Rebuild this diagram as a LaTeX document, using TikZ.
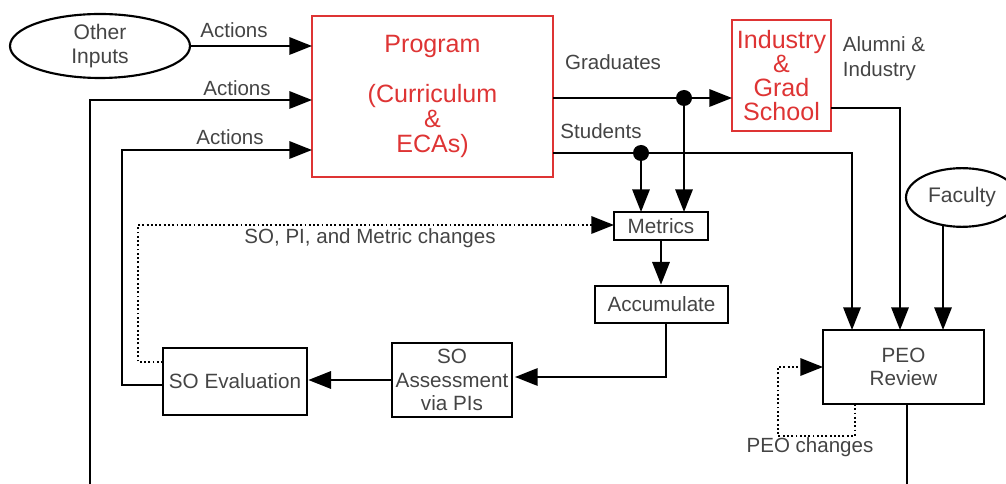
\documentclass[tikz,border=0pt]{standalone}
\usepackage{fontspec}
\setmainfont{Liberation Sans}
\usetikzlibrary{arrows.meta,shapes.geometric}
\definecolor{prog}{RGB}{222,52,52}
\definecolor{txt}{RGB}{68,68,68}
\begin{document}
\begin{tikzpicture}[x=0.75pt,y=-0.75pt,
  box/.style={draw=black,line width=2pt,inner sep=0pt,text=txt,align=center,font=\fontsize{15.5}{17.8}\selectfont},
  redbox/.style={draw=prog,line width=1.6pt,inner sep=0pt,text=prog,align=center,font=\fontsize{18.8}{18.3}\selectfont},
  oval/.style={draw=black,ellipse,line width=1.6pt,inner sep=0pt,text=txt,align=center,font=\fontsize{15.8}{18}\selectfont},
  lbl/.style={text=txt,font=\fontsize{15.4}{18.7}\selectfont},
  ln/.style={line width=1.6pt},
  flow/.style={line width=1.6pt,-{Triangle[length=17pt,width=13pt]}},
  dotln/.style={line width=1.6pt,dash pattern=on 1.4pt off 1.8pt},
  dot/.style={circle,fill=black,inner sep=0pt,minimum size=12pt}
]
\useasboundingbox (0,0) rectangle (1006,484);
\begin{scope}
\clip (0,0) rectangle (1006,484);
% nodes
\node[oval,minimum width=135pt,minimum height=48pt] (oi) at (100,46) {Other\\Inputs};
\node[redbox,minimum width=180.75pt,minimum height=120.75pt,font=\fontsize{18.8}{18.8}\selectfont] (prog) at (432.5,96.5) {Program\\[18.8pt](Curriculum\\\&\\ECAs)};
\node[redbox,minimum width=74.25pt,minimum height=83.25pt,font=\fontsize{18.8}{17.8}\selectfont] (ind) at (781.5,75.5) {Industry\\\&\\Grad\\School};
\node[box,minimum width=70.5pt,minimum height=21pt] (met) at (661,226) {Metrics};
\node[box,minimum width=99.75pt,minimum height=27.75pt] (acc) at (661.5,304.5) {Accumulate};
\node[box,minimum width=90pt,minimum height=55.5pt] (soa) at (452,380) {SO\\Assessment\\via PIs};
\node[box,minimum width=108pt,minimum height=50.25pt] (soe) at (235,381.5) {SO Evaluation};
\node[box,minimum width=120.75pt,minimum height=55.5pt] (peo) at (903.5,367) {PEO\\Review};
\node[oval,minimum width=84pt,minimum height=44pt] (fac) at (962,197.5) {Faculty};

% labels
\node[lbl] (la1) at (234,30) {Actions};
\node[lbl] (la2) at (237,88) {Actions};
\node[lbl] (la3) at (230,137) {Actions};
\node[lbl] (lgr) at (613,62) {Graduates};
\node[lbl] (lst) at (601,131) {Students};
\node[lbl,align=left] (lal) at (884,59) {Alumni \&\\Industry};
\node[lbl] (lso) at (370,238) {SO, PI, and Metric changes};
\node[lbl] (lpeo) at (810,447) {PEO changes};

% coordinates
\coordinate (pin1) at (312,46);
\coordinate (pin2) at (312,100);
\coordinate (pin3) at (312,150);
\coordinate (k2) at (90,484);
\coordinate (k3) at (122,150);
\coordinate (soeL) at (163,385);
\coordinate (gout) at (553,98);
\coordinate (gin) at (732,98);
\coordinate (sout) at (553,153);
\coordinate (d1) at (684,98);
\coordinate (d2) at (641,153);
\coordinate (m1) at (641,212);
\coordinate (m2) at (684,212);
\coordinate (p1) at (852,330);
\coordinate (p2) at (900,330);
\coordinate (p3) at (943,330);
\coordinate (iout) at (831,108);
\coordinate (fout) at (943,226);
\coordinate (aout) at (666,323);
\coordinate (sin) at (515,377);
\coordinate (dso) at (163,362);
\coordinate (dk) at (138,225);
\coordinate (min) at (614,225);
\coordinate (pb) at (855,404);
\coordinate (pk) at (778,436);
\coordinate (pin) at (823,367);
\coordinate (pout) at (907,404);
\coordinate (pend) at (907,484);

% connectors
\draw[flow] (oi.east) -- (pin1);
\draw[flow] (k2) |- (pin2);
\draw[flow] (soeL) -| (k3) -- (pin3);
\draw[flow] (gout) -- (gin);
\draw[flow] (sout) -| (p1);
\draw[flow] (d1) -- (m2);
\draw[flow] (d2) -- (m1);
\draw[flow] (iout) -| (p2);
\draw[flow] (fout) -- (p3);
\draw[flow] (met.south) -- (met.south |- acc.north);
\draw[flow] (aout) |- (sin);
\draw[flow] (soa.west) -- (soe.east |- soa.west);
\draw[flow,dotln] (dso) -| (dk) -- (min);
\draw[flow,dotln] (pb) |- (pk) |- (pin);
\draw[ln] (pout) -- (pend);
\node[dot] (dt1) at (d1) {};
\node[dot] (dt2) at (d2) {};
\end{scope}
\end{tikzpicture}
\end{document}
